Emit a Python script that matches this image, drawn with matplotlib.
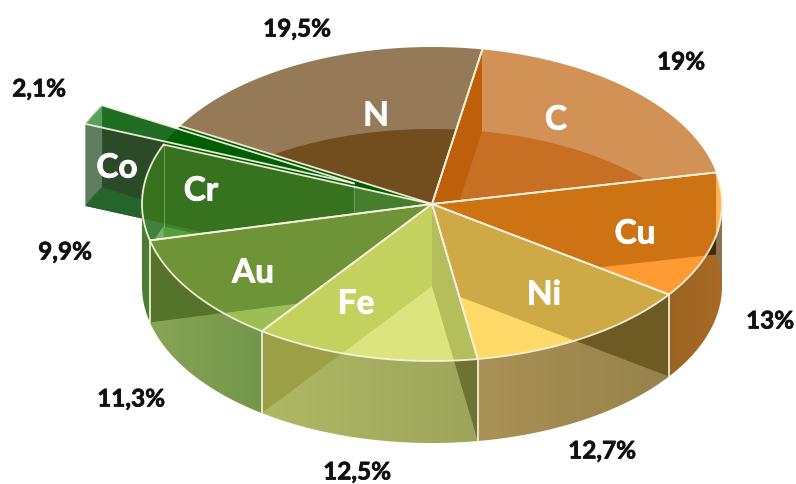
import numpy as np
import matplotlib
matplotlib.use("Agg")
import matplotlib.pyplot as plt
from matplotlib.patches import Polygon
import matplotlib.patheffects as pe

# ---------- data ----------
names = ["C", "Cu", "Ni", "Fe", "Au", "Cr", "Co", "N"]
shares = [19, 13, 12.7, 12.5, 11.3, 9.9, 2.1, 19.5]
share_labels = ["19%", "13%", "12,7%", "12,5%", "11,3%", "9,9%", "2,1%", "19,5%"]

# ---------- layout ----------
W, H = 796, 484
CX, CY, RX, RY, DEPTH = 432, 204, 290, 157, 82
START = 10.0
EXPLODE = {"Co": 0.30}
name_xy = {"C": (556, 120), "Cu": (635, 234), "Ni": (544, 295), "Fe": (356, 304),
           "Au": (253, 273), "Cr": (201, 191), "Co": (117, 168), "N": (376, 116)}
share_xy = {"C": (681, 62), "Cu": (770, 321), "Ni": (602, 451), "Fe": (357, 472),
            "Au": (131, 399), "Cr": (65, 252), "Co": (39, 89), "N": (297, 29)}
LINE = "#f6f1dc"

# crescent, wall, floor (through the top); side base L/R, side + wall
style = {
    "N":  dict(top="#967a58", wall="#724e1e", floor="#724e1e", side=None),
    "C":  dict(top="#d29155", wall="#be5f0a", floor="#c76f23", side=None),
    "Cu": dict(top="#ffb45a", wall="#cd7314", floor="#ff9b32",
               side=("#9c6423", "#a86a26"), dark="#46280a", back="#8c7350"),
    "Ni": dict(top="#cdaa46", wall="#cdaa46", floor="#ffda69",
               side=("#aa9155", "#96824b"), dark="#6e5a23"),
    "Fe": dict(top="#c3d25f", wall="#c3d25f", floor="#dae67d", wall2="#b4be5a",
               side=("#afb964", "#9ca55a"), dark="#9ba046", dark2="#6e7332"),
    "Au": dict(top="#6f9438", wall="#6f9438", floor="#9bbe55",
               side=("#87a555", "#73964b"), dark="#55732b"),
    "Cr": dict(top="#41823a", wall="#457e2d", floor="#50a03c",
               side=("#4b7d32", "#4b7d32"), dark="#4b7d32"),
}

# ---------- geometry ----------
def pt(theta, depth=0.0, off=(0.0, 0.0)):
    t = np.radians(theta)
    return (CX + off[0] + RX * np.sin(t), CY + off[1] - RY * np.cos(t) + depth)

def arc(a, b, depth=0.0, off=(0.0, 0.0)):
    n = max(2, int(abs(b - a)) * 2 + 2)
    return [pt(t, depth, off) for t in np.linspace(a, b, n)]

def apex(depth=0.0, off=(0.0, 0.0)):
    return (CX + off[0], CY + off[1] + depth)

def sector(a, b, depth=0.0, off=(0.0, 0.0)):
    return [apex(depth, off)] + arc(a, b, depth, off)

def radial_wall(t, off=(0.0, 0.0)):
    return [apex(0, off), pt(t, 0, off), pt(t, DEPTH, off), apex(DEPTH, off)]

def band(a, b, off=(0.0, 0.0)):
    return arc(a, b, 0, off) + arc(b, a, DEPTH, off)

fig = plt.figure(figsize=(W / 100, H / 100), dpi=100)
ax = fig.add_axes([0, 0, 1, 1])
ax.set_xlim(0, W)
ax.set_ylim(H, 0)
ax.axis("off")

z = [1]
def nz():
    z[0] += 1
    return z[0]

def clipper(points):
    return Polygon(points, closed=True, transform=ax.transData)

def fill(points, color, clip=None, alpha=None):
    p = Polygon(points, closed=True, facecolor=color, edgecolor="none",
                linewidth=0, alpha=alpha, zorder=nz())
    ax.add_patch(p)
    if clip is not None:
        p.set_clip_path(clipper(clip))
    return p

def gradient(points, c0, c1):
    xs = [p[0] for p in points]
    ys = [p[1] for p in points]
    c0, c1 = np.array(matplotlib.colors.to_rgb(c0)), np.array(matplotlib.colors.to_rgb(c1))
    ramp = np.linspace(0, 1, 64)[None, :, None]
    img = c0[None, None, :] * (1 - ramp) + c1[None, None, :] * ramp
    im = ax.imshow(img, extent=(min(xs), max(xs), max(ys), min(ys)), aspect="auto",
                   interpolation="bilinear", zorder=nz())
    im.set_clip_path(clipper(points))

def stroke(points, lw=1.3, alpha=0.95, color=LINE):
    xs, ys = zip(*points)
    ax.plot(xs, ys, color=color, lw=lw, alpha=alpha, solid_capstyle="round", zorder=500)

# ---------- angles from the values ----------
total = sum(shares)
bounds = {}
t = START
for n, s in zip(names, shares):
    bounds[n] = (t, t + s / total * 360)
    t += s / total * 360

# ---------- exploded slice (behind the rest) ----------
a, b = bounds["Co"]
mid = np.radians((a + b) / 2)
off = (RX * EXPLODE["Co"] * np.sin(mid), -RY * EXPLODE["Co"] * np.cos(mid))
fill(radial_wall(a, off), "#2a4a28")
fill(band(a, b, off), "#5f7d5f")
fill(sector(a, b, DEPTH, off), "#25642a")
co_top = sector(a, b, 0, off)
fill(co_top, "#1f6e23")
corner = arc(a, b, 0, off) + [(pt(b, 0, off)[0], pt(a, 0, off)[1] + (pt(b, 0, off)[0] - pt(a, 0, off)[0]) * 0.219)]
fill(corner, "#57a05a")
vacated = sector(a, b)
fill(vacated, "#005a00")
fill(co_top, "#005f05", clip=vacated)

# ---------- outer walls of the front ----------
for n in names:
    if n in ("Co", "N", "C"):
        continue
    a, b = bounds[n]
    st = style[n]
    fa, fb = max(a, 90), min(b, 270)
    if fb <= fa:
        continue
    outer = band(fa, fb)
    gradient(outer, *st["side"])
    if n == "Cu":
        fill(band(a, 90), st["back"], clip=outer)
    if n == "Fe":
        fill(radial_wall(b), st["dark"], clip=outer)
        fill(radial_wall(a), st["dark2"], clip=outer)
    else:
        hang = a if a < 180 else b
        fill(radial_wall(hang), st["dark"], clip=outer)

# ---------- top faces: what the glass lets through ----------
for n in ["N", "C", "Cu", "Ni", "Fe", "Au", "Cr"]:
    a, b = bounds[n]
    st = style[n]
    top = sector(a, b)
    fill(top, st["top"])
    fill(sector(a, b, DEPTH), st["floor"], clip=top)
    if n == "N":
        continue
    if n == "Fe":
        fill(radial_wall(b), st["wall"], clip=top)
        fill(radial_wall(a), st["wall2"], clip=top)
    elif n == "Cr":
        ca, cb = bounds["Co"]
        fill(radial_wall(b), st["wall"], clip=top)
        fill(radial_wall(ca, off), "#37731f", clip=top)
        fill(sector(a, b, DEPTH), st["floor"], clip=top)
        patch = arc(270, b, DEPTH) + [(pt(b)[0], pt(270, DEPTH)[1])]
        fill(patch, "#7ab06e", clip=top)
    else:
        hang = a if a < 180 else b
        fill(radial_wall(hang), st["wall"], clip=top)

# ---------- edge lines ----------
for n in names:
    a, b = bounds[n]
    o = off if n == "Co" else (0, 0)
    stroke([apex(0, o), pt(a, 0, o)])
    stroke([apex(0, o), pt(b, 0, o)])
    if n == "Co":
        stroke([pt(a, 0, o), pt(a, DEPTH, o)], alpha=0.35)
        stroke(arc(a, b, 0, o), alpha=0.5)
        stroke([apex(0, o), apex(DEPTH * 0.38, o)], lw=0.8, alpha=0.25)
        continue
    if n in ("N", "C"):
        continue
    stroke(arc(a, b))
    if 90 < a < 270:
        stroke([pt(a), pt(a, DEPTH)])
stroke([pt(bounds["Cr"][1]), pt(bounds["Cr"][1], DEPTH)], lw=0.8, alpha=0.3)
stroke([pt(bounds["C"][0]), pt(bounds["C"][0], DEPTH)], lw=0.7, alpha=0.2)

# ---------- text ----------
for n, s in zip(names, share_labels):
    x, y = name_xy[n]
    tx = ax.text(x, y, n, color="white", family="Lato", weight="bold", fontsize=24,
                 ha="center", va="center", zorder=600)
    tx.set_path_effects([pe.withStroke(linewidth=0.6, foreground="white")])
    x, y = share_xy[n]
    tx = ax.text(x, y, s, color="#111111", family="Lato", weight="bold", fontsize=17.5,
                 ha="center", va="center", zorder=600)
    tx.set_path_effects([pe.withStroke(linewidth=0.5, foreground="#111111")])

ax.set_xlim(0, W)
ax.set_ylim(H, 0)
fig.savefig("out.png", dpi=100, facecolor="white")
